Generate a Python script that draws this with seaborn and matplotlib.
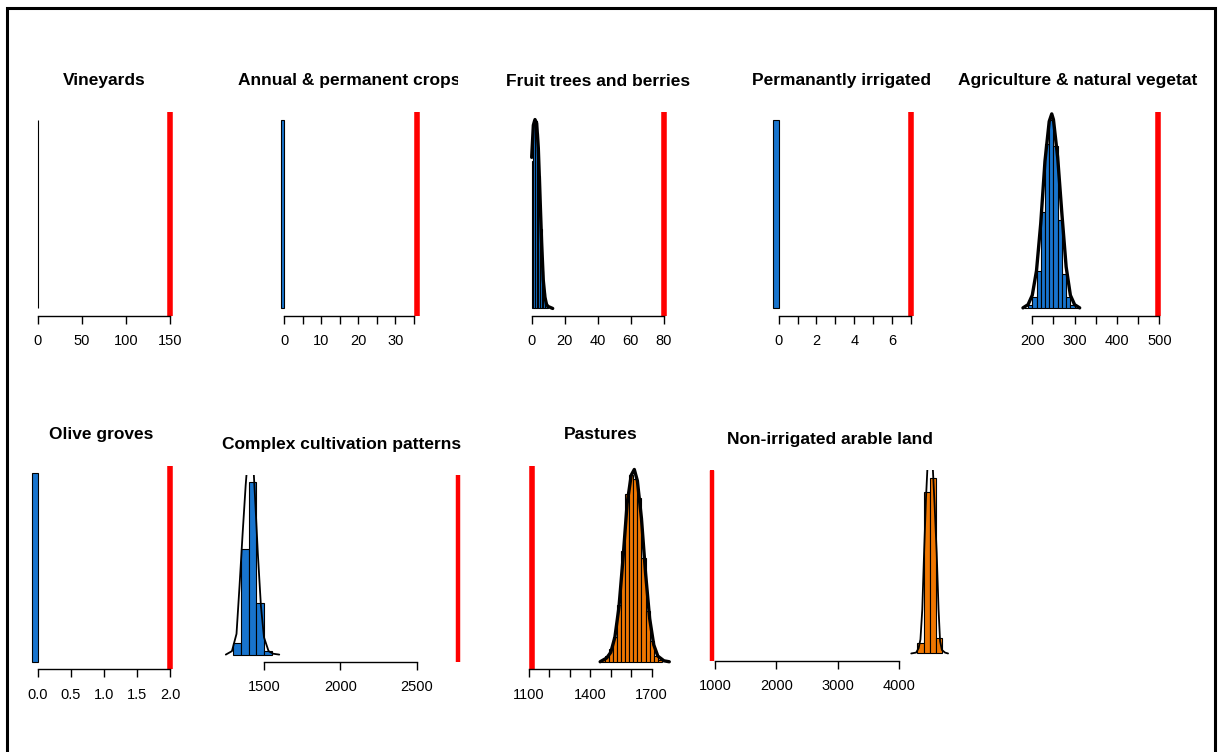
import matplotlib
matplotlib.use("Agg")
import matplotlib.pyplot as plt
import numpy as np
import seaborn as sns
from matplotlib.patches import Rectangle
from matplotlib.transforms import Bbox

# TITLES AND OBSERVED VALUES (red lines)
# (the fifth title is cut short in the original panel)
titles = ["Vineyards", "Annual & permanent crops", "Fruit trees and berries",
          "Permanantly irrigated", "Agriculture & natural vegetat",
          "Olive groves", "Complex cultivation patterns", "Pastures",
          "Non-irrigated arable land"]
observed = [150, 36, 80, 7, 497, 2.0, 2771, 1113, 946]

# HISTOGRAM BINS (edges) AND HEIGHTS (relative to tallest bar)
vine_edges = [-0.3, 0]
vine_heights = [1.0]
annual_edges = [-1, 0]
annual_heights = [1.0]
fruit_edges = [0, 1, 2, 3, 4, 5, 6, 7, 8, 9, 10]
fruit_heights = [0.78, 1.0, 0.99, 0.93, 0.70, 0.42, 0.20, 0.08, 0.03, 0.01]
perm_edges = [-0.3, 0]
perm_heights = [1.0]
agri_edges = [180, 190, 200, 210, 220, 230, 240, 250, 260, 270, 280, 290, 300, 310]
agri_heights = [0.005, 0.02, 0.06, 0.20, 0.51, 0.87, 1.0, 0.86, 0.47, 0.18, 0.06, 0.02, 0.005]
olive_edges = [-0.08, 0]
olive_heights = [1.0]
complex_edges = [1300, 1350, 1400, 1450, 1500, 1550]
complex_heights = [0.07, 0.61, 1.0, 0.30, 0.02]
past_edges = [1450, 1470, 1490, 1510, 1530, 1550, 1570, 1590, 1610, 1630,
              1650, 1670, 1690, 1710, 1730, 1750]
past_heights = [0.01, 0.03, 0.07, 0.13, 0.30, 0.59, 0.89, 0.99, 0.97, 0.87,
                0.55, 0.27, 0.11, 0.03, 0.01]
nonirr_edges = [4300, 4400, 4500, 4600, 4700]
nonirr_heights = [0.06, 0.92, 1.0, 0.09]

# DENSITY CURVES
fruit_cx = [0, 1, 2, 3, 4, 5, 6, 7, 8, 9, 10, 12.7]
fruit_cy = [0.80, 0.97, 1.0, 0.98, 0.85, 0.60, 0.35, 0.15, 0.06, 0.02, 0.01, 0.0]
agri_cx = [178, 190, 200, 210, 220, 230, 240, 246, 250, 260, 270, 280, 290, 300, 312]
agri_cy = [0.003, 0.02, 0.07, 0.20, 0.45, 0.78, 0.99, 1.03, 1.0, 0.80, 0.50, 0.22, 0.07, 0.02, 0.003]
complex_cx = [1250, 1290, 1320, 1340, 1360, 1380, 1395, 1412, 1430, 1445, 1460, 1480, 1500, 1530, 1560, 1600]
complex_cy = [0.0, 0.02, 0.12, 0.40, 0.70, 0.98, 1.15, 1.25, 1.10, 0.85, 0.58, 0.28, 0.10, 0.02, 0.005, 0.0]
past_cx = [1448, 1480, 1500, 1520, 1540, 1560, 1580, 1600, 1615, 1630, 1650, 1670, 1690, 1710, 1730, 1760, 1786]
past_cy = [0.0, 0.02, 0.05, 0.13, 0.29, 0.55, 0.84, 0.99, 1.02, 0.96, 0.76, 0.47, 0.23, 0.09, 0.03, 0.005, 0.0]
nonirr_cx = [4200, 4280, 4320, 4350, 4380, 4410, 4440, 4470, 4507, 4545, 4580, 4615, 4645, 4670, 4700, 4750, 4800]
nonirr_cy = [0.0, 0.005, 0.03, 0.08, 0.25, 0.58, 0.88, 1.10, 1.30, 1.10, 0.85, 0.57, 0.25, 0.07, 0.02, 0.005, 0.0]

# TICKS AND TICK LABELS ('' = tick without label, as R drops crowded labels)
vine_ticks = [0, 50, 100, 150]
vine_labels = ["0", "50", "100", "150"]
annual_ticks = [0, 5, 10, 15, 20, 25, 30, 35]
annual_labels = ["0", "", "10", "", "20", "", "30", ""]
fruit_ticks = [0, 20, 40, 60, 80]
fruit_labels = ["0", "20", "40", "60", "80"]
perm_ticks = [0, 1, 2, 3, 4, 5, 6, 7]
perm_labels = ["0", "", "2", "", "4", "", "6", ""]
agri_ticks = [200, 250, 300, 350, 400, 450, 500]
agri_labels = ["200", "", "300", "", "400", "", "500"]
olive_ticks = [0.0, 0.5, 1.0, 1.5, 2.0]
olive_labels = ["0.0", "0.5", "1.0", "1.5", "2.0"]
complex_ticks = [1500, 2000, 2500]
complex_labels = ["1500", "2000", "2500"]
past_ticks = [1100, 1200, 1300, 1400, 1500, 1600, 1700]
past_labels = ["1100", "", "", "1400", "", "", "1700"]
nonirr_ticks = [1000, 2000, 3000, 4000]
nonirr_labels = ["1000", "2000", "3000", "4000"]

BLUE = "#1874CD"
ORANGE = "#EE7600"

# LAYOUT: plot region in pixels (left, right, top, bottom) and x limits
layout = [
    ((32.7, 175.3, 112, 316), (-6, 156)),
    ((275.1, 422.9, 112, 316), (-2.48, 37.48)),
    ((526.4, 669.3, 112, 316), (-3.2, 83.2)),
    ((767.6, 916.3, 112, 316), (-0.59, 7.29)),
    ((1018.0, 1163.4, 112, 316), (166.3, 509.7)),
    ((26.9, 175.5, 465.7, 669.3), (-0.163, 2.083)),
    ((216.5, 467.4, 475, 661.5), (1189, 2832)),
    ((526.1, 674.8, 465.7, 669.3), (1086, 1813)),
    ((702.2, 957.5, 470.5, 660.5), (792, 4954)),
]

panels = [
    (vine_edges, vine_heights, BLUE, None, None, 1.0, vine_ticks, vine_labels),
    (annual_edges, annual_heights, BLUE, None, None, 1.0, annual_ticks, annual_labels),
    (fruit_edges, fruit_heights, BLUE, fruit_cx, fruit_cy, 2.4, fruit_ticks, fruit_labels),
    (perm_edges, perm_heights, BLUE, None, None, 1.0, perm_ticks, perm_labels),
    (agri_edges, agri_heights, BLUE, agri_cx, agri_cy, 2.4, agri_ticks, agri_labels),
    (olive_edges, olive_heights, BLUE, None, None, 1.0, olive_ticks, olive_labels),
    (complex_edges, complex_heights, BLUE, complex_cx, complex_cy, 1.3, complex_ticks, complex_labels),
    (past_edges, past_heights, ORANGE, past_cx, past_cy, 2.4, past_ticks, past_labels),
    (nonirr_edges, nonirr_heights, ORANGE, nonirr_cx, nonirr_cy, 1.3, nonirr_ticks, nonirr_labels),
]

W, H = 1218, 752
sns.set_style("white")
plt.rcParams["font.family"] = ["Liberation Sans", "DejaVu Sans"]
plt.rcParams["text.color"] = "black"

fig = plt.figure(figsize=(W / 100, H / 100), dpi=100)

for i, (panel, (rect, xlim)) in enumerate(zip(panels, layout)):
    edges, heights, col, cx, cy, clw, ticks, labels = panel
    left, right, top, bottom = rect
    ax = fig.add_axes([left / W, 1 - bottom / H, (right - left) / W, (bottom - top) / H])
    ax.patch.set_alpha(0)

    # histogram bars
    centers = [(edges[k] + edges[k + 1]) / 2 for k in range(len(edges) - 1)]
    sns.histplot(x=centers, weights=heights, bins=edges, ax=ax, color=col,
                 edgecolor="black", linewidth=0.8, alpha=1.0)
    # density curve
    if cx is not None:
        sns.lineplot(x=cx, y=cy, ax=ax, color="black", linewidth=clw)
    # observed value
    small = i in (6, 8)
    ax.axvline(observed[i], color="red", lw=3.2 if small else 4.0)

    ax.set_xlim(*xlim)
    ax.set_ylim(-0.04, 1.04)
    ax.set_xlabel("")
    ax.set_ylabel("")
    ax.set_yticks([])
    ax.set_xticks(ticks)
    ax.set_xticklabels(labels)
    for s in ["top", "right", "left"]:
        ax.spines[s].set_visible(False)
    ax.spines["bottom"].set_bounds(ticks[0], ticks[-1])
    ax.spines["bottom"].set_linewidth(1.0)
    ax.spines["bottom"].set_color("black")
    ax.tick_params(axis="x", bottom=True, direction="out", length=5.8, width=1.0,
                   pad=7.5, color="black", labelcolor="black", labelsize=10.5)

    # title; the long "Annual" one is clipped at its panel edge like the original
    cx_px = (left + right) / 2
    if i == 4:
        t = fig.text(958 / W, 1 - (top - 26.5) / H, titles[i], ha="left",
                     va="baseline", fontsize=12.5, fontweight="bold", color="black")
    else:
        t = fig.text(cx_px / W, 1 - (top - 26.5) / H, titles[i], ha="center",
                     va="baseline", fontsize=12.5, fontweight="bold", color="black")
    if i == 1:
        t.set_clip_box(Bbox([[0, 0], [right + 35, H]]))
        t.set_clip_on(True)

# outer frame
fig.patches.append(Rectangle((7 / W, -0.05), (1214.5 - 7) / W, 1 - 8 / H + 0.05,
                             transform=fig.transFigure, fill=False,
                             edgecolor="black", linewidth=2.2))

fig.savefig("out.png", dpi=100)
